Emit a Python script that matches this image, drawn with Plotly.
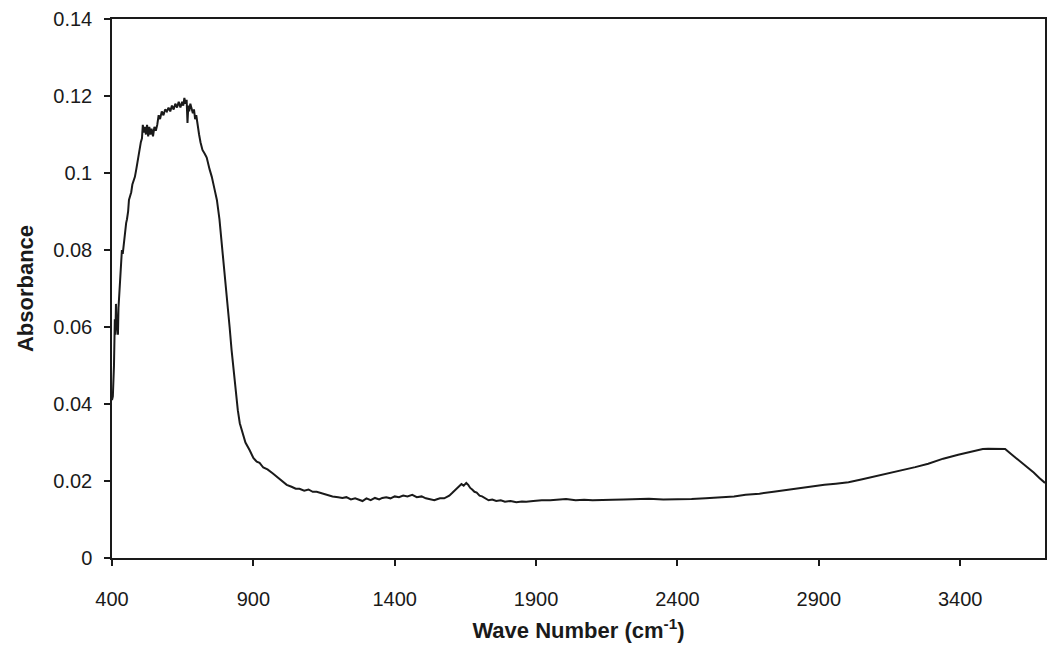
import plotly.graph_objects as go

# Wave number (cm^-1) and absorbance
wave_number = [
    400, 403, 407, 410, 412, 414, 416, 418, 421, 423, 425, 428, 430, 432, 435,
    438, 442, 446, 450, 453, 457, 460, 464, 468, 472, 477, 481, 486, 492, 497,
    502, 506, 509, 512, 516, 520, 524, 528, 532, 536, 540, 545, 550, 555, 560,
    565, 570, 576, 582, 588, 594, 600, 606, 612, 618, 624, 630, 636, 642, 648,
    652, 656, 660, 664, 667, 670, 673, 677, 681, 686, 690, 694, 698, 703, 708,
    713, 720, 728, 735, 745, 753, 762, 771, 780, 788, 795, 802, 809, 816, 823,
    830, 834, 840, 845, 852, 862, 872, 887, 900, 912, 922, 935, 950, 968, 985,
    1000, 1018, 1035, 1050, 1063, 1080, 1095, 1110, 1124, 1140, 1160, 1180, 1200,
    1215, 1229, 1245, 1260, 1275, 1286, 1300, 1315, 1330, 1345, 1356, 1370, 1385,
    1400, 1415, 1430, 1445, 1462, 1478, 1495, 1510, 1525, 1540, 1547, 1560, 1575,
    1585, 1593, 1602, 1612, 1620, 1628, 1636, 1644, 1653, 1660, 1667, 1674, 1682,
    1690, 1700, 1709, 1720, 1732, 1745, 1759, 1775, 1790, 1810, 1830, 1850, 1865,
    1890, 1920, 1950, 1980, 2006, 2040, 2070, 2100, 2133, 2170, 2210, 2250, 2299,
    2350, 2405, 2450, 2500, 2550, 2600, 2641, 2690, 2740, 2790, 2830, 2874, 2920,
    2960, 3005, 3050, 3111, 3170, 3241, 3287, 3340, 3393, 3440, 3480, 3499, 3530,
    3559, 3580, 3600, 3620, 3640, 3660, 3680, 3700,
]
absorbance = [
    0.0410, 0.0420, 0.0500, 0.0620, 0.0580, 0.0660, 0.0620, 0.0600, 0.0580, 0.0650,
    0.0680, 0.0700, 0.0740, 0.0760, 0.0800, 0.0790, 0.0820, 0.0850, 0.0870, 0.0880,
    0.0900, 0.0930, 0.0940, 0.0950, 0.0970, 0.0980, 0.0990, 0.1010, 0.1040, 0.1060,
    0.1080, 0.1090, 0.1125, 0.1105, 0.1120, 0.1100, 0.1125, 0.1095, 0.1120, 0.1100,
    0.1115, 0.1095, 0.1120, 0.1110, 0.1125, 0.1150, 0.1140, 0.1160, 0.1150, 0.1165,
    0.1160, 0.1170, 0.1160, 0.1175, 0.1165, 0.1180, 0.1170, 0.1185, 0.1170, 0.1185,
    0.1175, 0.1195, 0.1180, 0.1190, 0.1130, 0.1175, 0.1160, 0.1180, 0.1170, 0.1155,
    0.1165, 0.1140, 0.1150, 0.1120, 0.1100, 0.1080, 0.1060, 0.1050, 0.1040, 0.1010,
    0.0990, 0.0960, 0.0930, 0.0880, 0.0820, 0.0770, 0.0720, 0.0660, 0.0600, 0.0540,
    0.0490, 0.0455, 0.0420, 0.0384, 0.0350, 0.0325, 0.0300, 0.0280, 0.0260, 0.0250,
    0.0247, 0.0235, 0.0230, 0.0220, 0.0210, 0.0200, 0.0190, 0.0185, 0.0180, 0.0180,
    0.0175, 0.0178, 0.0172, 0.0172, 0.0168, 0.0165, 0.0160, 0.0158, 0.0156, 0.0158,
    0.0152, 0.0155, 0.0150, 0.0148, 0.0155, 0.0150, 0.0156, 0.0152, 0.0156, 0.0158,
    0.0155, 0.0160, 0.0158, 0.0162, 0.0160, 0.0164, 0.0158, 0.0160, 0.0155, 0.0152,
    0.0150, 0.0152, 0.0155, 0.0155, 0.0158, 0.0162, 0.0168, 0.0175, 0.0182, 0.0185,
    0.0192, 0.0188, 0.0195, 0.0190, 0.0182, 0.0178, 0.0172, 0.0170, 0.0162, 0.0160,
    0.0155, 0.0150, 0.0152, 0.0148, 0.0150, 0.0146, 0.0148, 0.0145, 0.0147, 0.0146,
    0.0148, 0.0150, 0.0150, 0.0152, 0.0153, 0.0150, 0.0151, 0.0150, 0.0150, 0.0151,
    0.0152, 0.0153, 0.0154, 0.0152, 0.0152, 0.0153, 0.0155, 0.0157, 0.0160, 0.0164,
    0.0167, 0.0172, 0.0177, 0.0182, 0.0186, 0.0190, 0.0193, 0.0197, 0.0204, 0.0214,
    0.0224, 0.0236, 0.0245, 0.0258, 0.0268, 0.0277, 0.0283, 0.0284, 0.0284, 0.0283,
    0.0270, 0.0258, 0.0246, 0.0236, 0.0222, 0.0208, 0.0195,
]

x_ticks = [400, 900, 1400, 1900, 2400, 2900, 3400]
y_ticks = [0, 0.02, 0.04, 0.06, 0.08, 0.1, 0.12, 0.14]
y_tick_labels = ["0", "0.02", "0.04", "0.06", "0.08", "0.1", "0.12", "0.14"]

fam = "Liberation Sans, Arial, sans-serif"
tick_font = dict(family=fam, size=20, color="#1a1a1a")
title_font = dict(family=fam, size=22, color="#1a1a1a")

fig = go.Figure()
fig.add_trace(go.Scatter(
    x=wave_number, y=absorbance, mode="lines",
    line=dict(color="#1a1a1a", width=2), showlegend=False,
))

fig.update_layout(
    width=1049, height=651,
    margin=dict(l=112, r=2, t=19, b=93),
    paper_bgcolor="white", plot_bgcolor="white",
    font=tick_font,
    xaxis=dict(
        range=[400, 3700], tickvals=x_ticks, ticks="outside", ticklen=6,
        tickwidth=1.5, tickcolor="#1a1a1a", showgrid=False, zeroline=False,
        showline=True, linecolor="#1a1a1a", linewidth=1.5, mirror=True,
        ticklabelstandoff=16, tickfont=tick_font,
        title=dict(text="<b>Wave Number (cm<sup>-1</sup>)</b>", standoff=14,
                   font=title_font),
    ),
    yaxis=dict(
        range=[0, 0.14], tickvals=y_ticks, ticktext=y_tick_labels, ticks="outside",
        ticklen=6, tickwidth=1.5, tickcolor="#1a1a1a", showgrid=False, zeroline=False,
        showline=True, linecolor="#1a1a1a", linewidth=1.5, mirror=True,
        ticklabelstandoff=8, tickfont=tick_font,
        title=dict(text="<b>Absorbance</b>", standoff=14, font=title_font),
    ),
)

fig.write_html("out.html")
